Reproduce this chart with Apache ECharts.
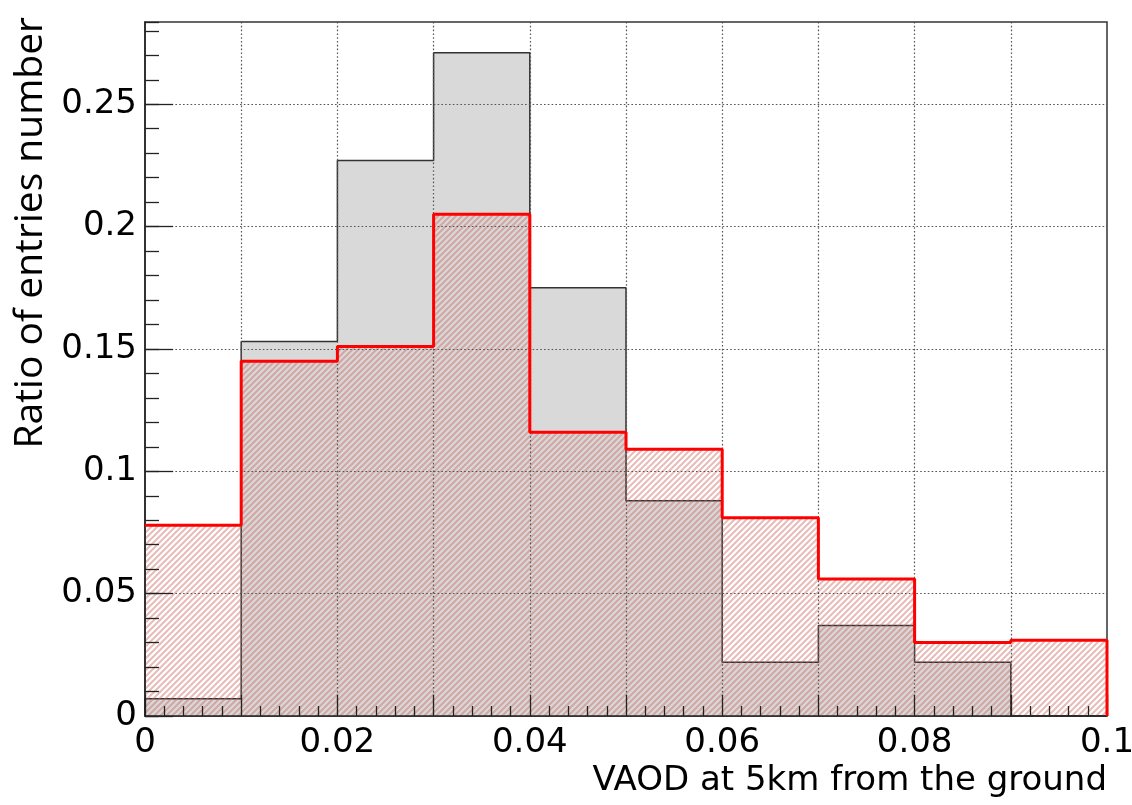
<!DOCTYPE html>
<html>
<head>
<meta charset="utf-8">
<script src="https://cdn.jsdelivr.net/npm/echarts@6/dist/echarts.min.js"></script>
<style>
  html, body { margin: 0; padding: 0; background: #ffffff; }
  #chart { width: 1132px; height: 805px; }
</style>
</head>
<body>
<div id="chart"></div>
<script>
// Bin edges of the VAOD histograms (width 0.01)
const binEdges = [0, 0.01, 0.02, 0.03, 0.04, 0.05, 0.06, 0.07, 0.08, 0.09, 0.1];
// Grey filled histogram: ratio of entries per bin
const histGray = [0.007, 0.153, 0.227, 0.271, 0.175, 0.088, 0.022, 0.037, 0.022, 0];
// Red hatched histogram: ratio of entries per bin
const histRed = [0.078, 0.145, 0.151, 0.205, 0.116, 0.109, 0.081, 0.056, 0.030, 0.031];
// Tick labels
const xTickLabels = ['0', '0.02', '0.04', '0.06', '0.08', '0.1'];
const yTickLabels = ['0', '0.05', '0.1', '0.15', '0.2', '0.25'];
const xTitle = 'VAOD at 5km from the ground';
const yTitle = 'Ratio of entries number';

const TICK_FONT = '"DejaVu Sans", "Liberation Sans", sans-serif';

// Diagonal hatch pattern tile
function makeHatch() {
  const c = document.createElement('canvas');
  const s = 6;
  c.width = s; c.height = s;
  const g = c.getContext('2d');
  g.strokeStyle = 'rgba(200, 95, 85, 0.42)';
  g.lineWidth = 2;
  g.beginPath();
  g.moveTo(-1, s + 1); g.lineTo(s + 1, -1);
  g.moveTo(-1, 1); g.lineTo(1, -1);
  g.moveTo(s - 1, s + 1); g.lineTo(s + 1, s - 1);
  g.stroke();
  return c;
}
const hatch = { image: makeHatch(), repeat: 'repeat' };

function binData(vals) {
  return vals.map((v, i) => [binEdges[i], binEdges[i + 1], v]);
}

// Step contour of a histogram, from the top of the first bin to the baseline after the last
function contour(vals, fromBase) {
  const pts = [];
  if (fromBase) pts.push([binEdges[0], 0]);
  vals.forEach((v, i) => {
    pts.push([binEdges[i], v]);
    pts.push([binEdges[i + 1], v]);
  });
  pts.push([binEdges[binEdges.length - 1], 0]);
  return pts;
}

function barRenderer(fill) {
  return function (params, api) {
    const lo = api.value(0), hi = api.value(1), v = api.value(2);
    const p0 = api.coord([lo, 0]);
    const p1 = api.coord([hi, v]);
    return {
      type: 'rect',
      shape: { x: p0[0], y: p1[1], width: p1[0] - p0[0], height: p0[1] - p1[1] },
      style: { fill: fill, stroke: null }
    };
  };
}

const gridLine = { show: true, showMinLine: false, showMaxLine: false,
  lineStyle: { color: '#555', width: 1.2, type: [1.6, 2.2] } };

const chart = echarts.init(document.getElementById('chart'), null, { renderer: 'canvas' });
chart.setOption({
  animation: false,
  backgroundColor: '#ffffff',
  grid: {
    left: 145, right: 25, top: 22, bottom: 89,
    outerBoundsMode: 'none', containLabel: false,
    show: true, borderColor: '#333', borderWidth: 1.5, backgroundColor: 'transparent'
  },
  xAxis: {
    type: 'value', min: 0, max: 0.1, interval: 0.01, z: 4,
    axisLine: { show: true, onZero: false, lineStyle: { color: '#222', width: 1.5 } },
    axisTick: { show: true, inside: true, length: 21, lineStyle: { color: '#222', width: 1.3 } },
    minorTick: { show: true, splitNumber: 5, length: 10, lineStyle: { color: '#222', width: 1.3 } },
    splitLine: gridLine,
    axisLabel: {
      margin: 10, color: '#000', fontSize: 34, fontFamily: TICK_FONT,
      showMinLabel: true, showMaxLabel: true, hideOverlap: false,
      formatter: (v, i) => (i % 2 === 0 ? (xTickLabels[i / 2] ?? '') : '')
    }
  },
  yAxis: [{
    type: 'value', min: 0, max: 0.2836, interval: 0.05, z: 4,
    axisLine: { show: true, onZero: false, lineStyle: { color: '#222', width: 1.5 } },
    axisTick: { show: true, inside: true, length: 28, lineStyle: { color: '#222', width: 1.3 } },
    splitLine: gridLine,
    axisLabel: {
      margin: 8, color: '#000', fontSize: 34, fontFamily: TICK_FONT,
      showMaxLabel: false,
      formatter: (v, i) => yTickLabels[i] ?? ''
    }
  }, {
    // secondary axis only for the 0.01 minor ticks
    type: 'value', min: 0, max: 0.2836, interval: 0.01, position: 'left', offset: 0, z: 4,
    axisLine: { show: false },
    axisTick: { show: true, inside: true, length: 14, lineStyle: { color: '#222', width: 1.3 } },
    axisLabel: { show: false },
    splitLine: { show: false }
  }],
  series: [
    {
      type: 'custom', name: 'gray', z: 1, silent: true,
      renderItem: barRenderer('#d9d9d9'),
      encode: { x: [0, 1], y: 2 },
      data: binData(histGray)
    },
    {
      type: 'line', name: 'gray contour', z: 2, silent: true,
      showSymbol: false, symbol: 'none',
      lineStyle: { color: '#333', width: 1.5 },
      data: contour(histGray, true)
    },
    {
      type: 'custom', name: 'red', z: 3, silent: true,
      renderItem: barRenderer(hatch),
      encode: { x: [0, 1], y: 2 },
      data: binData(histRed)
    },
    {
      type: 'line', name: 'red contour', z: 5, silent: true,
      showSymbol: false, symbol: 'none',
      lineStyle: { color: '#ff0000', width: 3 },
      data: contour(histRed, false)
    }
  ],
  graphic: [
    {
      type: 'text', x: 1107, y: 781, z: 10,
      style: { text: xTitle, align: 'right', verticalAlign: 'middle',
        font: '34px "DejaVu Sans", "Liberation Sans", sans-serif', fill: '#000' }
    },
    {
      type: 'text', x: 31, y: 17, rotation: Math.PI / 2, z: 10,
      style: { text: yTitle, align: 'right', verticalAlign: 'middle',
        font: '39px "Open Sans", sans-serif', fill: '#000' }
    }
  ]
});
</script>
</body>
</html>
